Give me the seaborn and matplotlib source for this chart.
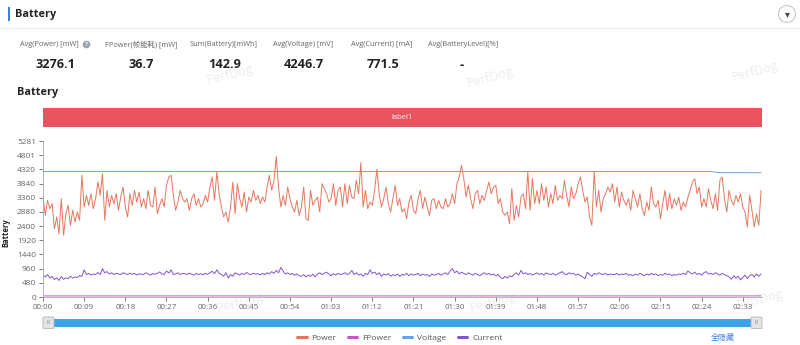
import numpy as np
import pandas as pd
import matplotlib
matplotlib.use("Agg")
import matplotlib.pyplot as plt
import seaborn as sns
from matplotlib.patches import Rectangle, Ellipse, FancyBboxPatch
from matplotlib.lines import Line2D

# ---------------- data ----------------
stat_labels = ["Avg(Power) [mW]", "FPower(帧能耗) [mW]", "Sum(Battery)[mWh]",
               "Avg(Voltage) [mV]", "Avg(Current) [mA]", "Avg(BatteryLevel)[%]"]
stat_values = ["3276.1", "36.7", "142.9", "4246.7", "771.5", "-"]

series_names = ["Power", "FPower", "Voltage", "Current"]
series_colors = ["#e8765d", "#c756c4", "#63a3e2", "#8055d4"]

sample_step = 0.5  # seconds between samples

power = [
    3384, 2764, 3271, 2990, 3159, 2313, 2708, 2144, 3328, 2088,
    2821, 3103, 2426, 2934, 2539, 2877, 2595, 4119, 3046, 3441,
    3103, 3497, 2990, 3328, 3892, 3441, 4175, 2595, 3610, 3046,
    3441, 3159, 3497, 2934, 3384, 3723, 3046, 2708, 3497, 3103,
    3610, 3215, 3553, 3046, 3328, 2990, 3610, 3103, 3046, 3723,
    2821, 3103, 3328, 3046, 3779, 4062, 4119, 3441, 2934, 3215,
    3610, 3328,
    3215, 3328, 2934, 3328, 3497, 3103, 3328, 3046, 3159, 3441,
    3215, 3723, 4062, 3271, 4232, 3497, 3046, 2708, 2877, 2539,
    3046, 3892, 2821, 3836, 3328, 3046, 3553, 2877, 3384, 3215,
    3610, 3271, 3441, 3159, 3384, 3215, 3723, 4119, 3610, 3949,
    4750, 3723, 3046, 3441, 3103, 3723, 3328, 3046, 2877, 3271,
    2764, 3046, 3723, 2651, 2595, 3610, 3103, 3271, 3384, 2877,
    3836, 3667, 3497,
    3215, 3328, 3836, 3103, 3610, 3723, 3046, 3836, 3159, 3779,
    3384, 3328, 3949, 3497, 4550, 3046, 3610, 2990, 3215, 3103,
    3610, 4320, 3497, 3046, 3328, 3723, 3159, 2877, 3328, 3779,
    3103, 3328, 2877, 2990, 2651, 3215, 3441, 2934, 2821, 3328,
    3610, 2990, 3384, 3046, 2764, 3271, 3328, 2990, 3271, 3046,
    2990, 3328, 3046, 3159, 3497, 3159, 3836, 4062, 4457, 4006,
    3384, 3779,
    3328, 2990, 3497, 3610, 3159, 3441, 3271, 3610, 3892, 3497,
    3723, 3779, 3159, 3328, 2877, 2764, 2877, 2482, 3667, 2595,
    3103, 2708, 3384, 3497, 2990, 4232, 2934, 4006, 3159, 3610,
    3159, 3836, 3271, 3723, 3046, 3497, 3159, 3779, 3271, 3441,
    3328, 3949, 3441, 3046, 3723, 3328, 3497, 3836, 4062, 3610,
    3215, 3384, 2708, 2426, 4232, 3046, 3610, 2877, 3328, 3497,
    3723, 3553, 3836,
    3215, 3723, 3046, 3553, 3271, 3103, 3328, 2934, 3610, 3328,
    3046, 3497, 2990, 2764, 3215, 2934, 3723, 3159, 3046, 3271,
    2651, 3159, 3610, 2934, 3497, 2990, 3328, 3103, 3384, 2934,
    3215, 3046, 3384, 3610, 3892, 4006, 3497, 3723, 3046, 3328,
    3046, 3667, 3271, 2990, 3497, 2934, 3949, 4062, 3328, 2877,
    3610, 3271, 3103, 3441, 3215, 3497, 3046, 2877, 2369, 3441,
    2934, 2369, 2821, 2426, 3610,
]

current = [
    730, 680, 760, 640, 700, 590, 650, 560, 690, 600,
    650, 620, 700, 640, 680, 660, 720, 700, 920, 760,
    800, 740, 780, 760, 830, 760, 960, 820, 860, 780,
    820, 760, 800, 780, 760, 820, 790, 760, 810, 770,
    800, 740, 790, 770, 760, 820, 780, 740, 790, 770,
    800, 850, 780, 760, 880, 810, 920, 760, 780, 820,
    760, 800,
    790, 760, 810, 770, 740, 800, 760, 790, 750, 800,
    770, 820, 870, 790, 920, 800, 760, 700, 820, 640,
    760, 700, 820, 780, 740, 800, 760, 830, 780, 760,
    810, 770, 790, 750, 800, 760, 820, 780, 860, 800,
    900, 820, 1000, 880, 780, 820, 760, 800, 740, 780,
    720, 700, 760, 680, 740, 700, 770, 680, 780, 820,
    760, 800, 840,
    780, 720, 790, 740, 800, 760, 780, 820, 760, 790,
    900, 760, 820, 740, 780, 700, 800, 760, 920, 800,
    840, 760, 820, 700, 780, 740, 790, 700, 760, 720,
    780, 700, 760, 740, 800, 720, 780, 740, 760, 800,
    720, 780, 740, 760, 700, 780, 740, 760, 800, 740,
    780, 820, 760, 880, 960, 820, 880, 780, 840, 800,
    760, 820,
    780, 740, 800, 760, 720, 780, 820, 760, 800, 740,
    780, 720, 760, 660, 620, 700, 640, 720, 680, 760,
    820, 740, 900, 780, 820, 760, 800, 740, 780, 820,
    760, 800, 740, 820, 780, 760, 800, 740, 780, 820,
    860, 780, 760, 820, 780, 800, 740, 780, 720, 680,
    620, 840, 760, 700, 800, 760, 820, 780, 760, 800,
    740, 780, 760,
    760, 800, 740, 780, 760, 800, 740, 760, 720, 780,
    740, 800, 760, 720, 780, 740, 800, 760, 780, 720,
    760, 740, 800, 760, 780, 720, 760, 740, 780, 760,
    800, 760, 880, 820, 780, 840, 760, 800, 740, 820,
    860, 780, 800, 760, 820, 780, 740, 800, 760, 720,
    680, 600, 720, 640, 700, 580, 660, 740, 620, 720,
    760, 680, 780, 700, 780,
]

voltage_t = [0, 20, 40, 60, 80, 100, 120, 140, 146, 148, 157]
voltage = [4252, 4252, 4251, 4251, 4250, 4250, 4249, 4249, 4248, 4210, 4208]

fpower_t = [0, 30, 60, 90, 120, 157]
fpower = [36, 37, 37, 36, 37, 37]

ytick_vals = [0, 480, 960, 1440, 1920, 2400, 2880, 3360, 3840, 4320, 4801, 5281]
ytick_labels = ["0", "480", "960", "1440", "1920", "2400", "2880", "3360",
                "3840", "4320", "4801", "5281"]
xtick_secs = [0, 9, 18, 27, 36, 45, 54, 63, 72, 81, 90, 99, 108, 117, 126,
              135, 144, 153]
xtick_labels = ["00:00", "00:09", "00:18", "00:27", "00:36", "00:45", "00:54",
                "01:03", "01:12", "01:21", "01:30", "01:39", "01:48", "01:57",
                "02:06", "02:15", "02:24", "02:33"]

# ---------------- build long table ----------------
t_samples = np.arange(len(power)) * sample_step
t_cur = np.arange(len(current)) * sample_step
df = pd.concat([
    pd.DataFrame({"t": t_samples, "value": power, "series": "Power"}),
    pd.DataFrame({"t": fpower_t, "value": fpower, "series": "FPower"}),
    pd.DataFrame({"t": voltage_t, "value": voltage, "series": "Voltage"}),
    pd.DataFrame({"t": t_cur, "value": current, "series": "Current"}),
], ignore_index=True)

# ---------------- figure ----------------
sns.set_theme(style="white")
plt.rcParams["font.family"] = ["Open Sans", "Noto Sans CJK SC", "DejaVu Sans"]

W, H = 800, 345
fig = plt.figure(figsize=(8, 3.45), dpi=100)
fig.patch.set_facecolor("white")

def fx(x):
    return x / W

def fy(y):
    return 1 - y / H

def circle(cx, cy, r, **kw):
    fig.patches.append(Ellipse((fx(cx), fy(cy)), 2 * r / W, 2 * r / H,
                               transform=fig.transFigure, **kw))

# header
fig.patches.append(Rectangle((fx(8), fy(21)), fx(2.2), 14 / H, transform=fig.transFigure,
                             facecolor="#3f7fd8", edgecolor="none"))
fig.text(fx(15), fy(14), "Battery", fontsize=7.8, fontweight="bold", color="#222",
         va="center", ha="left")
fig.lines.append(Line2D([0, 1], [fy(28), fy(28)], transform=fig.transFigure,
                        color="#ececec", lw=0.8))
# dropdown button
circle(787, 14, 8.5, facecolor="white", edgecolor="#c8c8c8", lw=0.8)
fig.text(fx(787), fy(14.5), "▾", fontsize=7, color="#444", ha="center", va="center",
         family="DejaVu Sans")

# stats
label_x = [20, 105, 190, 273, 351, 428]
value_x = [55, 141, 225, 304, 383, 462]
for lx, vx, lab, val in zip(label_x, value_x, stat_labels, stat_values):
    fig.text(fx(lx), fy(44.5), lab, fontsize=5.3, color="#666", ha="left", va="center")
    fig.text(fx(vx), fy(65), val, fontsize=9.2, fontweight="bold", color="#222",
             ha="center", va="center")
# question mark icon
circle(86.5, 44.5, 3.8, facecolor="#9aa3ad", edgecolor="none")
fig.text(fx(86.5), fy(44.6), "?", fontsize=4.5, color="white", ha="center", va="center",
         fontweight="bold")

fig.text(fx(17), fy(93), "Battery", fontsize=7.8, fontweight="bold", color="#222",
         ha="left", va="center")

# watermarks
for (wx, wy) in [(230, 75), (490, 78), (755, 72), (240, 303), (493, 303), (760, 300)]:
    fig.text(fx(wx), fy(wy), "PerfDog", fontsize=9, color="#bbbbbb", alpha=0.28,
             rotation=15, ha="center", va="center")

# label banner
fig.patches.append(Rectangle((fx(43), fy(127)), fx(762 - 43), 19 / H,
                             transform=fig.transFigure, facecolor="#e9525f",
                             edgecolor="none"))
fig.text(fx(402), fy(117.5), "label1", fontsize=5.5, color="white", ha="center",
         va="center")

# main axes
ax = fig.add_axes([fx(43), fy(297), fx(762 - 43), (297 - 141) / H])
palette = dict(zip(series_names, series_colors))
sns.lineplot(data=df, x="t", y="value", hue="series", hue_order=series_names,
             palette=palette, estimator=None, linewidth=0.7, legend=False, ax=ax)
ax.set_xlim(0, 157.2)
ax.set_ylim(0, 5281)
ax.set_yticks(ytick_vals)
ax.set_yticklabels(ytick_labels)
ax.set_xticks(xtick_secs)
ax.set_xticklabels(xtick_labels)
ax.tick_params(axis="y", labelsize=6, colors="#666", length=3, width=0.6, pad=2,
               direction="out", left=True)
ax.tick_params(axis="x", labelsize=5.8, colors="#666", length=3, width=0.6, pad=2,
               direction="out", bottom=True)
for s in ["top", "right"]:
    ax.spines[s].set_visible(False)
for s in ["left", "bottom"]:
    ax.spines[s].set_color("#aaaaaa")
    ax.spines[s].set_linewidth(0.6)
ax.set_xlabel("")
ax.set_ylabel("Battery", fontsize=5.5, fontweight="bold", color="#222")
ax.yaxis.set_label_coords(-0.045, 0.41)
ax.set_facecolor("white")
ax.grid(False)

# slider
fig.patches.append(Rectangle((fx(48), fy(326.5)), fx(710), 7.5 / H,
                             transform=fig.transFigure, facecolor="#3aa3ea",
                             edgecolor="none"))
for hx in [43, 751]:
    fig.patches.append(FancyBboxPatch((fx(hx), fy(328.5)), fx(11), 11.5 / H,
                                      boxstyle="round,pad=0,rounding_size=0.002",
                                      transform=fig.transFigure,
                                      facecolor="#e4e4e4", edgecolor="#b5b5b5", lw=0.6))
    fig.text(fx(hx + 5.5), fy(322.8), "III", fontsize=3.5, color="#888",
             ha="center", va="center")

# legend
handles = [Line2D([], [], color=c, lw=2.2) for c in series_colors]
fig.legend(handles, series_names, loc="center", bbox_to_anchor=(fx(400), fy(338)),
           ncol=4, frameon=False, fontsize=6, handlelength=1.1, handletextpad=0.6,
           columnspacing=1.4, labelcolor="#555")
fig.text(fx(723), fy(338), "全隐藏", fontsize=5.8, color="#4a7fd8", ha="center",
         va="center")

fig.savefig("out.png", dpi=100, facecolor="white")
